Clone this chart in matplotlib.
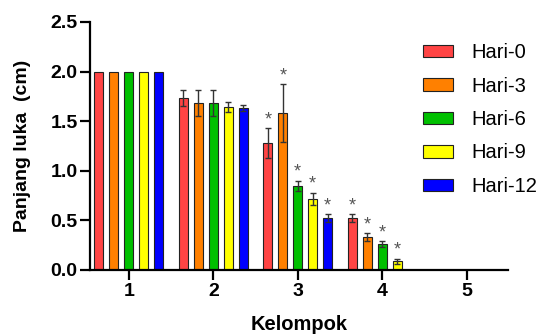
import matplotlib
matplotlib.use("Agg")
import matplotlib.pyplot as plt
import numpy as np
from matplotlib.patches import Patch

groups = ["1", "2", "3", "4", "5"]
series = ["Hari-0", "Hari-3", "Hari-6", "Hari-9", "Hari-12"]
colors = ["#FF4444", "#FF8000", "#00C000", "#FFFF00", "#0000FF"]

values = {
    "Hari-0":  [2.00, 1.73, 1.28, 0.52, 0.0],
    "Hari-3":  [2.00, 1.68, 1.58, 0.33, 0.0],
    "Hari-6":  [2.00, 1.68, 0.85, 0.26, 0.0],
    "Hari-9":  [2.00, 1.64, 0.72, 0.09, 0.0],
    "Hari-12": [2.00, 1.63, 0.52, 0.0, 0.0],
}
errors = {
    "Hari-0":  [0.0, 0.08, 0.15, 0.04, 0.0],
    "Hari-3":  [0.0, 0.13, 0.29, 0.04, 0.0],
    "Hari-6":  [0.0, 0.13, 0.05, 0.03, 0.0],
    "Hari-9":  [0.0, 0.05, 0.06, 0.025, 0.0],
    "Hari-12": [0.0, 0.03, 0.04, 0.0, 0.0],
}
stars = {
    "Hari-0":  [False, False, True, True, False],
    "Hari-3":  [False, False, True, True, False],
    "Hari-6":  [False, False, True, True, False],
    "Hari-9":  [False, False, True, True, False],
    "Hari-12": [False, False, True, False, False],
}

plt.rcParams['font.family'] = ['Liberation Sans', 'DejaVu Sans']

fig = plt.figure(figsize=(5.45, 3.34), dpi=100)
ax = fig.add_axes([90/545, 1-270/334, 418/545, 248/334])

x = np.arange(1, len(groups) + 1)
step = 0.177
width = 0.106
for i, s in enumerate(series):
    xs = x + (i - 2) * step
    v = np.array(values[s])
    e = np.array(errors[s])
    mask = v > 0
    ax.bar(xs[mask], v[mask], width=width, color=colors[i], edgecolor="#222222",
           linewidth=0.8, zorder=2)
    em = mask & (e > 0)
    ax.errorbar(xs[em], v[em], yerr=e[em], fmt="none", ecolor="#333333",
                elinewidth=1.0, capsize=2.5, capthick=1.0, zorder=3)
    for xi, vi, ei, st in zip(xs, v, e, stars[s]):
        if st:
            ax.text(xi, vi + ei + 0.0, "*", ha="center", va="bottom",
                    fontsize=13, color="#555555", zorder=4)

ax.set_xlim(0.54, 5.49)
ax.set_ylim(0, 2.5)
ax.set_yticks([0.0, 0.5, 1.0, 1.5, 2.0, 2.5])
ax.set_yticklabels(["0.0", "0.5", "1.0", "1.5", "2.0", "2.5"])
ax.set_xticks(x)
ax.set_xticklabels(groups)

for sp in ["top", "right"]:
    ax.spines[sp].set_visible(False)
for sp in ["left", "bottom"]:
    ax.spines[sp].set_linewidth(1.6)
    ax.spines[sp].set_color("black")

ax.tick_params(axis="both", width=1.6, length=7, labelsize=14, pad=2)
for lab in ax.get_xticklabels() + ax.get_yticklabels():
    lab.set_fontweight("bold")

ax.set_xlabel("Kelompok", fontsize=14.5, fontweight="bold")
ax.set_ylabel("Panjang luka  (cm)", fontsize=14, fontweight="bold")
ax.xaxis.set_label_coords(0.5, -0.18)
ax.yaxis.set_label_coords(-0.14, 0.5)

handles = [Patch(facecolor=c, edgecolor="#222222", linewidth=0.8) for c in colors]
leg = fig.legend(handles, series, loc="upper left", bbox_to_anchor=(423/545, 1-43/334),
                 frameon=False, fontsize=14.5, handlelength=1.5, handleheight=0.6,
                 labelspacing=0.72, handletextpad=0.9, borderaxespad=0, borderpad=0)

fig.savefig("out.png", dpi=100)
